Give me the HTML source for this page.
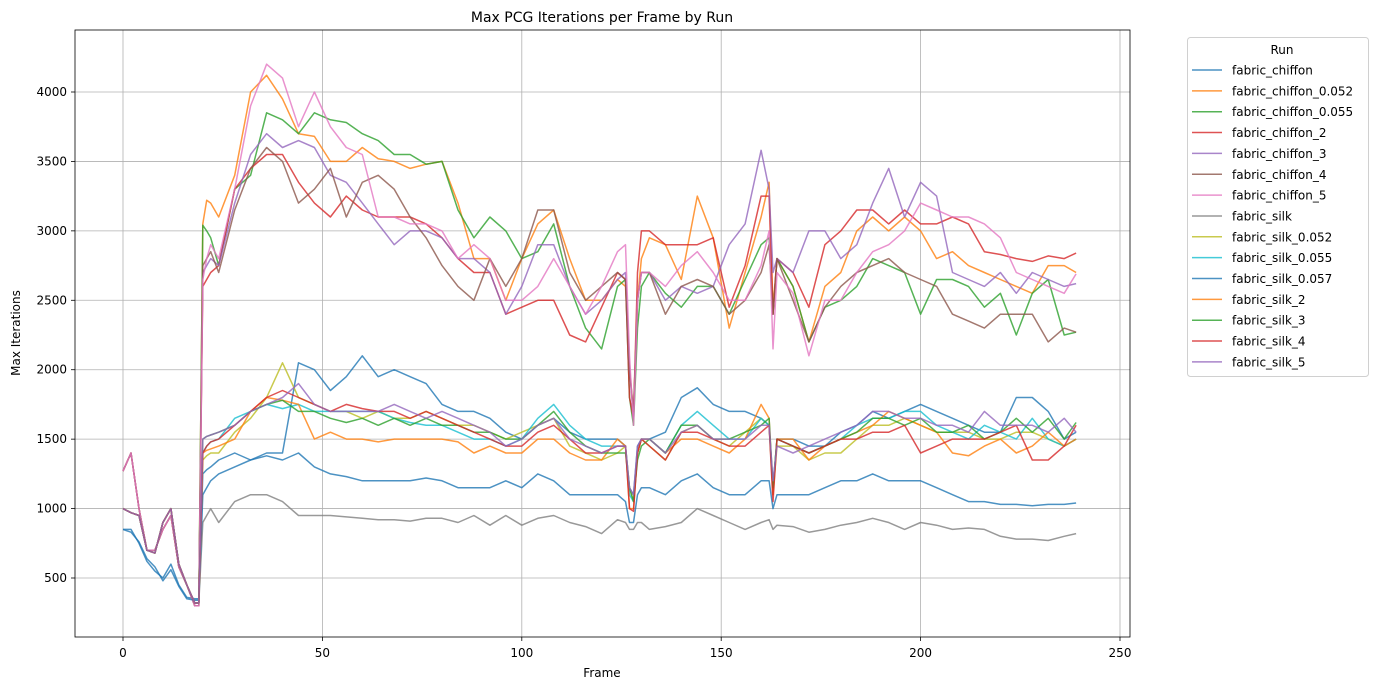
<!DOCTYPE html>
<html><head><meta charset="utf-8"><style>
body{margin:0;background:#fff;}
svg{display:block;font-family:"DejaVu Sans","Liberation Sans",sans-serif;}
</style></head><body>
<svg id="chart" width="1388" height="690" xmlns="http://www.w3.org/2000/svg">
<rect width="1388" height="690" fill="#fff"/>
<g id="grid"></g><g id="series"></g><g id="axes"></g><g id="legend"></g>
</svg>
<script>
const frames=[0,2,4,6,8,10,12,14,16,18,19,20,21,22,24,28,32,36,40,44,48,52,56,60,64,68,72,76,80,84,88,92,96,100,104,108,112,116,120,124,126,127,128,129,130,132,136,140,144,148,152,156,160,162,163,164,168,172,176,180,184,188,192,196,200,204,208,212,216,220,224,228,232,236,239];
const xTicks=[0,50,100,150,200,250];
const yTicks=[500,1000,1500,2000,2500,3000,3500,4000];
const seriesNames=["fabric_chiffon","fabric_chiffon_0.052","fabric_chiffon_0.055","fabric_chiffon_2","fabric_chiffon_3","fabric_chiffon_4","fabric_chiffon_5","fabric_silk","fabric_silk_0.052","fabric_silk_0.055","fabric_silk_0.057","fabric_silk_2","fabric_silk_3","fabric_silk_4","fabric_silk_5"];
const hiStart=[1270,1400,1000,700,700,850,950,580,450,300,300];
const loStart=[1000,970,950,700,680,900,1000,600,450,320,320];
const chiffon=[850,850,750,620,550,500,600,450,360,350,350,
1250,1280,1300,1350,1400,1350,1400,1400,2050,2000,1850,1950,2100,1950,2000,1950,1900,1750,1700,1700,1650,1550,1500,1600,1650,1550,1500,1500,1500,1450,1150,1100,1450,1500,1500,1550,1800,1870,1750,1700,1700,1650,1600,1150,1500,1500,1450,1450,1550,1600,1700,1650,1700,1750,1700,1650,1600,1550,1550,1800,1800,1700,1500,1550];
const chiffon052=hiStart.concat([3050,3220,3200,3100,3400,4000,4120,3950,3700,3680,3500,3500,3600,3520,3500,3450,3480,3500,3200,2800,2800,2500,2800,3050,3150,2800,2500,2500,2650,2600,2000,1700,2500,2800,2950,2900,2650,3250,2950,2300,2700,3100,3350,2450,2800,2600,2200,2600,2700,3000,3100,3000,3100,3000,2800,2850,2750,2700,2650,2600,2550,2750,2750,2700]);
const chiffon055=loStart.concat([3040,3000,2950,2750,3300,3400,3850,3800,3700,3850,3800,3780,3700,3650,3550,3550,3480,3500,3150,2950,3100,3000,2800,2850,3050,2600,2300,2150,2600,2650,1800,1600,2300,2600,2700,2550,2450,2600,2600,2400,2650,2900,2950,2400,2800,2600,2200,2450,2500,2600,2800,2750,2700,2400,2650,2650,2600,2450,2550,2250,2550,2650,2250,2270]);
const chiffon2=hiStart.concat([2600,2650,2700,2750,3300,3450,3550,3550,3350,3200,3100,3250,3150,3100,3100,3100,3050,2950,2800,2700,2700,2400,2450,2500,2500,2250,2200,2450,2700,2650,1800,1650,2700,3000,3000,2900,2900,2900,2950,2450,2750,3250,3250,2400,2800,2700,2450,2900,3000,3150,3150,3050,3150,3050,3050,3100,3050,2850,2830,2800,2780,2820,2800,2840]);
const chiffon3=hiStart.concat([2700,2750,2800,2750,3200,3550,3700,3600,3650,3600,3400,3350,3200,3050,2900,3000,3000,2950,2800,2800,2700,2400,2600,2900,2900,2600,2400,2500,2650,2700,2000,1650,2500,2700,2700,2500,2600,2550,2600,2900,3050,3580,3300,2700,2800,2700,3000,3000,2800,2900,3200,3450,3100,3350,3250,2700,2650,2600,2700,2550,2700,2650,2600,2620]);
const chiffon4=hiStart.concat([2750,2800,2850,2700,3150,3450,3600,3500,3200,3300,3450,3100,3350,3400,3300,3100,2950,2750,2600,2500,2800,2600,2800,3150,3150,2700,2500,2600,2700,2650,2000,1700,2500,2700,2700,2400,2600,2650,2600,2400,2500,2700,2900,2400,2800,2500,2200,2450,2600,2700,2750,2800,2700,2650,2600,2400,2350,2300,2400,2400,2400,2200,2300,2270]);
const chiffon5=hiStart.concat([2650,2800,2900,2800,3300,3900,4200,4100,3750,4000,3750,3600,3550,3100,3100,3050,3050,3000,2800,2900,2800,2500,2500,2600,2800,2600,2400,2600,2850,2900,2100,1600,2500,2700,2700,2600,2750,2850,2700,2500,2500,2750,3000,2150,2700,2550,2100,2500,2500,2700,2850,2900,3000,3200,3150,3100,3100,3050,2950,2700,2650,2600,2550,2690]);
const silk=loStart.concat([900,950,1000,900,1050,1100,1100,1050,950,950,950,940,930,920,920,910,930,930,900,950,880,950,880,930,950,900,870,820,920,900,850,850,900,900,850,870,900,1000,950,900,850,900,920,850,880,870,830,850,880,900,930,900,850,900,880,850,860,850,800,780,780,770,800,820]);
const silk052=loStart.concat([1350,1380,1400,1400,1550,1650,1800,2050,1800,1750,1700,1700,1650,1700,1650,1650,1700,1650,1600,1600,1550,1500,1550,1600,1650,1450,1400,1350,1400,1450,1150,1050,1400,1500,1450,1350,1550,1600,1500,1450,1550,1650,1600,1100,1450,1450,1350,1400,1400,1500,1600,1600,1650,1600,1550,1550,1550,1500,1500,1550,1550,1500,1450,1500]);
const silk055=loStart.concat([1400,1450,1480,1500,1650,1700,1750,1720,1750,1700,1700,1700,1700,1700,1650,1620,1600,1600,1550,1500,1500,1450,1500,1650,1750,1600,1500,1450,1450,1450,1100,1050,1400,1500,1500,1400,1600,1700,1600,1500,1500,1650,1600,1150,1500,1450,1400,1450,1500,1600,1650,1650,1700,1700,1600,1550,1500,1600,1550,1500,1650,1500,1450,1500]);
const silk057=[850,830,760,640,580,480,560,440,350,340,340,
1100,1150,1200,1250,1300,1350,1380,1350,1400,1300,1250,1230,1200,1200,1200,1200,1220,1200,1150,1150,1150,1200,1150,1250,1200,1100,1100,1100,1100,1050,900,900,1100,1150,1150,1100,1200,1250,1150,1100,1100,1200,1200,1000,1100,1100,1100,1150,1200,1200,1250,1200,1200,1200,1150,1100,1050,1050,1030,1030,1020,1030,1030,1040];
const silk2=loStart.concat([1400,1420,1430,1450,1500,1700,1800,1780,1750,1500,1550,1500,1500,1480,1500,1500,1500,1500,1480,1400,1450,1400,1400,1500,1500,1400,1350,1350,1500,1450,1000,1000,1400,1500,1500,1400,1500,1500,1450,1400,1500,1750,1650,1100,1500,1500,1350,1450,1500,1550,1600,1700,1650,1600,1550,1400,1380,1450,1500,1400,1450,1550,1450,1500]);
const silk3=loStart.concat([1500,1520,1530,1550,1600,1700,1750,1780,1700,1700,1650,1620,1650,1600,1650,1600,1650,1600,1600,1550,1550,1500,1500,1600,1700,1550,1450,1400,1400,1400,1150,1050,1350,1450,1500,1400,1600,1600,1500,1500,1550,1600,1650,1150,1500,1450,1400,1450,1500,1550,1650,1650,1600,1650,1550,1550,1600,1500,1550,1650,1550,1650,1500,1620]);
const silk4=loStart.concat([1400,1450,1480,1500,1600,1700,1800,1850,1800,1750,1700,1750,1720,1700,1700,1650,1700,1650,1600,1550,1500,1450,1450,1550,1600,1500,1400,1400,1450,1450,1000,980,1400,1500,1450,1350,1550,1550,1500,1450,1450,1550,1600,1050,1500,1450,1400,1450,1500,1500,1550,1550,1600,1400,1450,1500,1500,1500,1550,1600,1350,1350,1450,1600]);
const silk5=loStart.concat([1500,1520,1530,1550,1600,1700,1750,1800,1900,1750,1700,1700,1700,1700,1750,1700,1650,1700,1650,1600,1550,1450,1500,1600,1650,1500,1450,1400,1450,1450,1150,1100,1450,1500,1500,1400,1550,1600,1500,1500,1500,1600,1600,1200,1450,1400,1450,1500,1550,1600,1700,1700,1650,1650,1600,1600,1550,1700,1600,1600,1600,1550,1650,1550]);
const seriesValues=[chiffon,chiffon052,chiffon055,chiffon2,chiffon3,chiffon4,chiffon5,silk,silk052,silk055,silk057,silk2,silk3,silk4,silk5];
const colors=["#1f77b4","#ff7f0e","#2ca02c","#d62728","#9467bd","#8c564b","#e377c2","#7f7f7f","#bcbd22","#17becf","#1f77b4","#ff7f0e","#2ca02c","#d62728","#9467bd"];

const NS="http://www.w3.org/2000/svg";
const L=75,R=1130,T=30,B=637;
const xs=f=>123+f*(1120-123)/250;
const ys=v=>578-(v-500)*(578-92)/3500;
function mk(tag,attrs,parent){const e=document.createElementNS(NS,tag);for(const k in attrs)e.setAttribute(k,attrs[k]);parent.appendChild(e);return e;}
const grid=document.getElementById('grid'),axes=document.getElementById('axes'),sg=document.getElementById('series'),lg=document.getElementById('legend');
xTicks.forEach(t=>{const x=xs(t);
 const g=mk('line',{x1:x,x2:x,y1:T,y2:B,stroke:'#b0b0b0','stroke-width':0.8},grid);
 
 mk('line',{x1:x,x2:x,y1:B,y2:B+4,stroke:'#000','stroke-width':0.8},axes);
 const tx=mk('text',{x:x,y:B+20,'font-size':12,'text-anchor':'middle'},axes);tx.textContent=t;
 });
yTicks.forEach(t=>{const y=ys(t);
 const g=mk('line',{x1:L,x2:R,y1:y,y2:y,stroke:'#b0b0b0','stroke-width':0.8},grid);
 
 mk('line',{x1:L-4,x2:L,y1:y,y2:y,stroke:'#000','stroke-width':0.8},axes);
 const tx=mk('text',{x:L-8,y:y+4,'font-size':12,'text-anchor':'end'},axes);tx.textContent=t;
 });
const fr=mk('rect',{x:L,y:T,width:R-L,height:B-T,fill:'none',stroke:'#000','stroke-width':0.8},axes);

let t1=mk('text',{x:602,y:22,'font-size':14,'text-anchor':'middle'},axes);t1.textContent='Max PCG Iterations per Frame by Run';

let t2=mk('text',{x:602,y:677,'font-size':12,'text-anchor':'middle'},axes);t2.textContent='Frame';

let t3=mk('text',{x:0,y:0,'font-size':12,'text-anchor':'middle',transform:'translate(20,333) rotate(-90)'},axes);t3.textContent='Max Iterations';

seriesValues.forEach((vals,i)=>{
 const n=Math.min(vals.length,frames.length);let d='';
 for(let k=0;k<n;k++)d+=(k?'L':'M')+xs(frames[k]).toFixed(1)+','+ys(vals[k]).toFixed(1);
 const p=mk('path',{d:d,fill:'none',stroke:colors[i],'stroke-width':1.5,'stroke-opacity':0.8,'stroke-linejoin':'round'},sg);
 
 
});
const lb=mk('rect',{x:1187.5,y:37.5,width:181,height:339,rx:3,fill:'#fff',stroke:'#d0d0d0','stroke-width':1},lg);

let lt=mk('text',{x:1282,y:54,'font-size':12,'text-anchor':'middle'},lg);lt.textContent='Run';

seriesNames.forEach((nm,i)=>{const y=70+i*20.85;
 const ln=mk('line',{x1:1192,x2:1222,y1:y,y2:y,stroke:colors[i],'stroke-width':1.5,'stroke-opacity':0.8},lg);
 
 const tx=mk('text',{x:1232,y:y+4.5,'font-size':12},lg);tx.textContent=nm;
 });
</script>
</body></html>
